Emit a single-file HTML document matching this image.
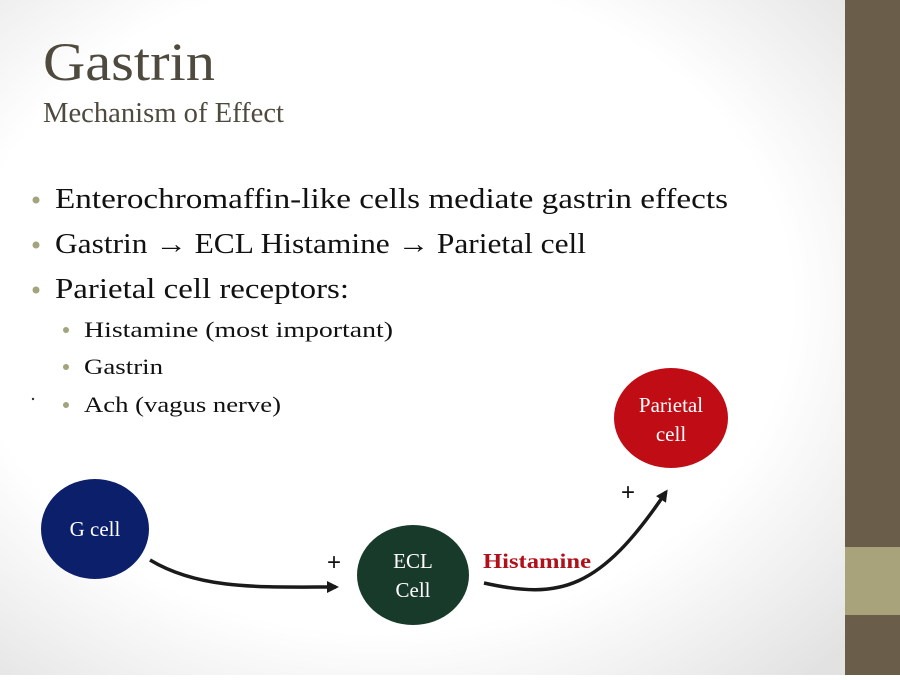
<!DOCTYPE html>
<html><head><meta charset="utf-8"><style>
body{margin:0;width:900px;height:675px;overflow:hidden;}
</style></head><body>
<svg width="900" height="675" xmlns="http://www.w3.org/2000/svg">
<defs>
<radialGradient id="bg" cx="45%" cy="45%" r="75%">
<stop offset="0.65" stop-color="#ffffff"/><stop offset="1" stop-color="#e2e2e2"/>
</radialGradient>
<marker id="ah" markerWidth="12" markerHeight="12" refX="9" refY="6" orient="auto" markerUnits="userSpaceOnUse">
<path d="M0,0 L12,6 L0,12 z" fill="#1a1a1a"/>
</marker>
</defs>
<rect width="845" height="675" fill="url(#bg)"/>
<rect x="845" y="0" width="55" height="675" fill="#6a5e4b"/>
<rect x="845" y="547" width="55" height="68" fill="#a9a37c"/>
<g fill="#4e4a3e" font-family="Liberation Serif, serif">
<text x="43" y="80" font-size="54" textLength="172" lengthAdjust="spacingAndGlyphs">Gastrin</text>
<text x="43" y="122" font-size="28" textLength="241" lengthAdjust="spacingAndGlyphs">Mechanism of Effect</text>
</g>
<g font-family="Liberation Serif, serif" fill="#111" lengthAdjust="spacingAndGlyphs">
<text x="55" y="208" font-size="28" textLength="673" lengthAdjust="spacingAndGlyphs">Enterochromaffin-like cells mediate gastrin effects</text>
<text x="55" y="253" font-size="28" textLength="531" lengthAdjust="spacingAndGlyphs">Gastrin <tspan font-weight="bold">→</tspan> ECL Histamine <tspan font-weight="bold">→</tspan> Parietal cell</text>
<text x="55" y="298" font-size="28" textLength="294" lengthAdjust="spacingAndGlyphs">Parietal cell receptors:</text>
<text x="84" y="337" font-size="22" textLength="309" lengthAdjust="spacingAndGlyphs">Histamine (most important)</text>
<text x="84" y="374" font-size="22" textLength="79" lengthAdjust="spacingAndGlyphs">Gastrin</text>
<text x="84" y="412" font-size="22" textLength="197" lengthAdjust="spacingAndGlyphs">Ach (vagus nerve)</text>
</g>
<g fill="#a3a37c">
<circle cx="36" cy="200" r="3.5"/><circle cx="36" cy="245" r="3.5"/><circle cx="36" cy="290" r="3.5"/>
<circle cx="66" cy="330" r="3"/><circle cx="66" cy="367" r="3"/><circle cx="66" cy="405" r="3"/>
</g>
<circle cx="33" cy="399" r="1.2" fill="#333"/>
<ellipse cx="95" cy="529" rx="54" ry="50" fill="#0c1f6a"/>
<ellipse cx="413" cy="575" rx="56" ry="50" fill="#173a2b"/>
<ellipse cx="671" cy="418" rx="57" ry="50" fill="#c00c14"/>
<g font-family="Liberation Serif, serif" fill="#fff" font-size="21" text-anchor="middle">
<text x="95" y="536">G cell</text>
<text x="413" y="568">ECL</text>
<text x="413" y="597">Cell</text>
<text x="671" y="412">Parietal</text>
<text x="671" y="441">cell</text>
</g>
<path d="M150,560 C200,590 260,587 336,587" fill="none" stroke="#1a1a1a" stroke-width="3.5" marker-end="url(#ah)"/>
<path d="M484,583 C560,600 600,590 666,492" fill="none" stroke="#1a1a1a" stroke-width="3.5" marker-end="url(#ah)"/>
<g font-family="Liberation Sans, sans-serif" fill="#111" font-size="24">
<text x="327" y="570">+</text>
<text x="621" y="500">+</text>
</g>
<text x="483" y="568" font-family="Liberation Serif, serif" font-weight="bold" font-size="21" fill="#b0101a" textLength="108" lengthAdjust="spacingAndGlyphs">Histamine</text>
</svg>
</body></html>
